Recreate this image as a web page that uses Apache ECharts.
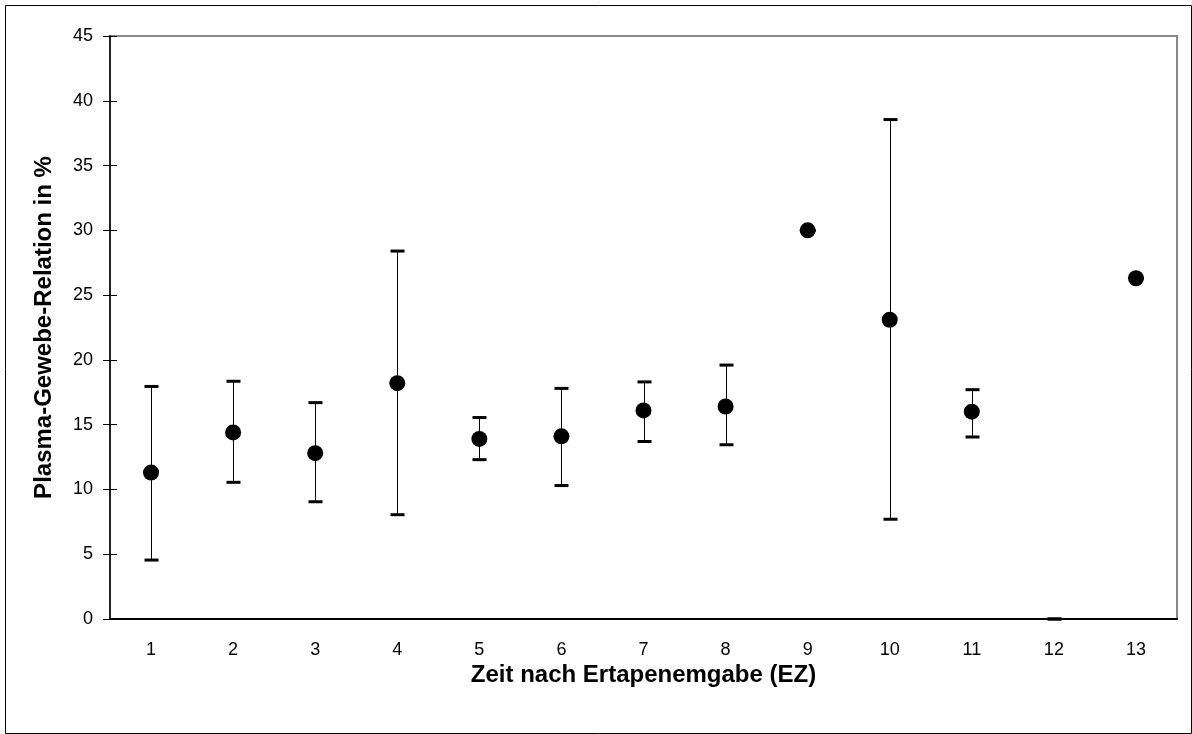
<!DOCTYPE html>
<html>
<head>
<meta charset="utf-8">
<script src="https://cdn.jsdelivr.net/npm/echarts@6/dist/echarts.min.js"></script>
<style>html,body{margin:0;padding:0;background:#fff;}#c{width:1192px;height:734px;}</style>
</head>
<body>
<div id="c"></div>
<script>
const categories = ['1','2','3','4','5','6','7','8','9','10','11','12','13'];
const means = [11.3, 14.4, 12.8, 18.2, 13.9, 14.1, 16.1, 16.4, 30.0, 23.1, 16.0, null, 26.3];
const lower = [4.55, 10.55, 9.05, 8.05, 12.3, 10.3, 13.7, 13.45, 30.0, 7.7, 14.05, 0, 26.3];
const upper = [17.95, 18.35, 16.7, 28.4, 15.55, 17.8, 18.3, 19.6, 30.0, 38.55, 17.7, 0, 26.3];
const yTicks = { min: 0, max: 45, interval: 5 };

const FONT = '"Liberation Sans", Arial, sans-serif';
const errData = categories.map((c, i) => [i, lower[i], upper[i]]);

const chart = echarts.init(document.getElementById('c'), null, { renderer: 'canvas' });
chart.setOption({
  animation: false,
  backgroundColor: '#fff',
  grid: { left: 110, top: 36, right: 15, bottom: 115, show: true, borderColor: '#8a8a8a', borderWidth: 2, backgroundColor: 'transparent' },
  graphic: [{
    type: 'rect', left: 3, top: 3, z: -1,
    shape: { width: 1186, height: 728 },
    style: { fill: 'none', stroke: '#000', lineWidth: 1 }
  }],
  xAxis: {
    type: 'category', data: categories, boundaryGap: true,
    name: 'Zeit nach Ertapenemgabe (EZ)', nameLocation: 'middle', nameGap: 44, nameMoveOverlap: false,
    nameTextStyle: { fontFamily: FONT, fontSize: 24, fontWeight: 'bold', color: '#000' },
    axisLine: { lineStyle: { color: '#000', width: 2 } },
    axisTick: { show: false },
    axisLabel: { fontFamily: FONT, fontSize: 18, color: '#000', margin: 22 },
    splitLine: { show: false }
  },
  yAxis: [{
    type: 'value', min: yTicks.min, max: yTicks.max, interval: yTicks.interval,
    name: 'Plasma-Gewebe-Relation in %', nameLocation: 'middle', nameGap: 54, nameMoveOverlap: false,
    nameTextStyle: { fontFamily: FONT, fontSize: 24, fontWeight: 'bold', color: '#000' },
    axisLine: { show: true, lineStyle: { color: '#222', width: 2 } },
    axisTick: { show: true, length: 7, lineStyle: { color: '#000', width: 1 } },
    axisLabel: { fontFamily: FONT, fontSize: 18, color: '#000', margin: 17 },
    splitLine: { show: false }
  }, {
    type: 'value', min: yTicks.min, max: yTicks.max, interval: yTicks.interval, position: 'left',
    axisLine: { show: false },
    axisTick: { show: true, inside: true, length: 7, lineStyle: { color: '#000', width: 1 } },
    axisLabel: { show: false },
    splitLine: { show: false }
  }],
  series: [{
    type: 'custom',
    data: errData,
    z: 2,
    renderItem: function (params, api) {
      const x = api.value(0);
      const lo = api.coord([x, api.value(1)]);
      const hi = api.coord([x, api.value(2)]);
      const hw = 7;
      const cx = Math.round(lo[0]) + 0.5;
      return {
        type: 'group',
        children: [
          { type: 'line', shape: { x1: cx, y1: lo[1], x2: cx, y2: hi[1] }, style: { stroke: '#000', lineWidth: 1 } },
          { type: 'line', shape: { x1: cx - hw, y1: hi[1], x2: cx + hw, y2: hi[1] }, style: { stroke: '#000', lineWidth: 3 } },
          { type: 'line', shape: { x1: cx - hw, y1: lo[1], x2: cx + hw, y2: lo[1] }, style: { stroke: '#000', lineWidth: 3 } }
        ]
      };
    }
  }, {
    type: 'scatter',
    data: means,
    symbol: 'circle', symbolSize: 16,
    itemStyle: { color: '#000', opacity: 1 },
    z: 3
  }]
});
</script>
</body>
</html>
